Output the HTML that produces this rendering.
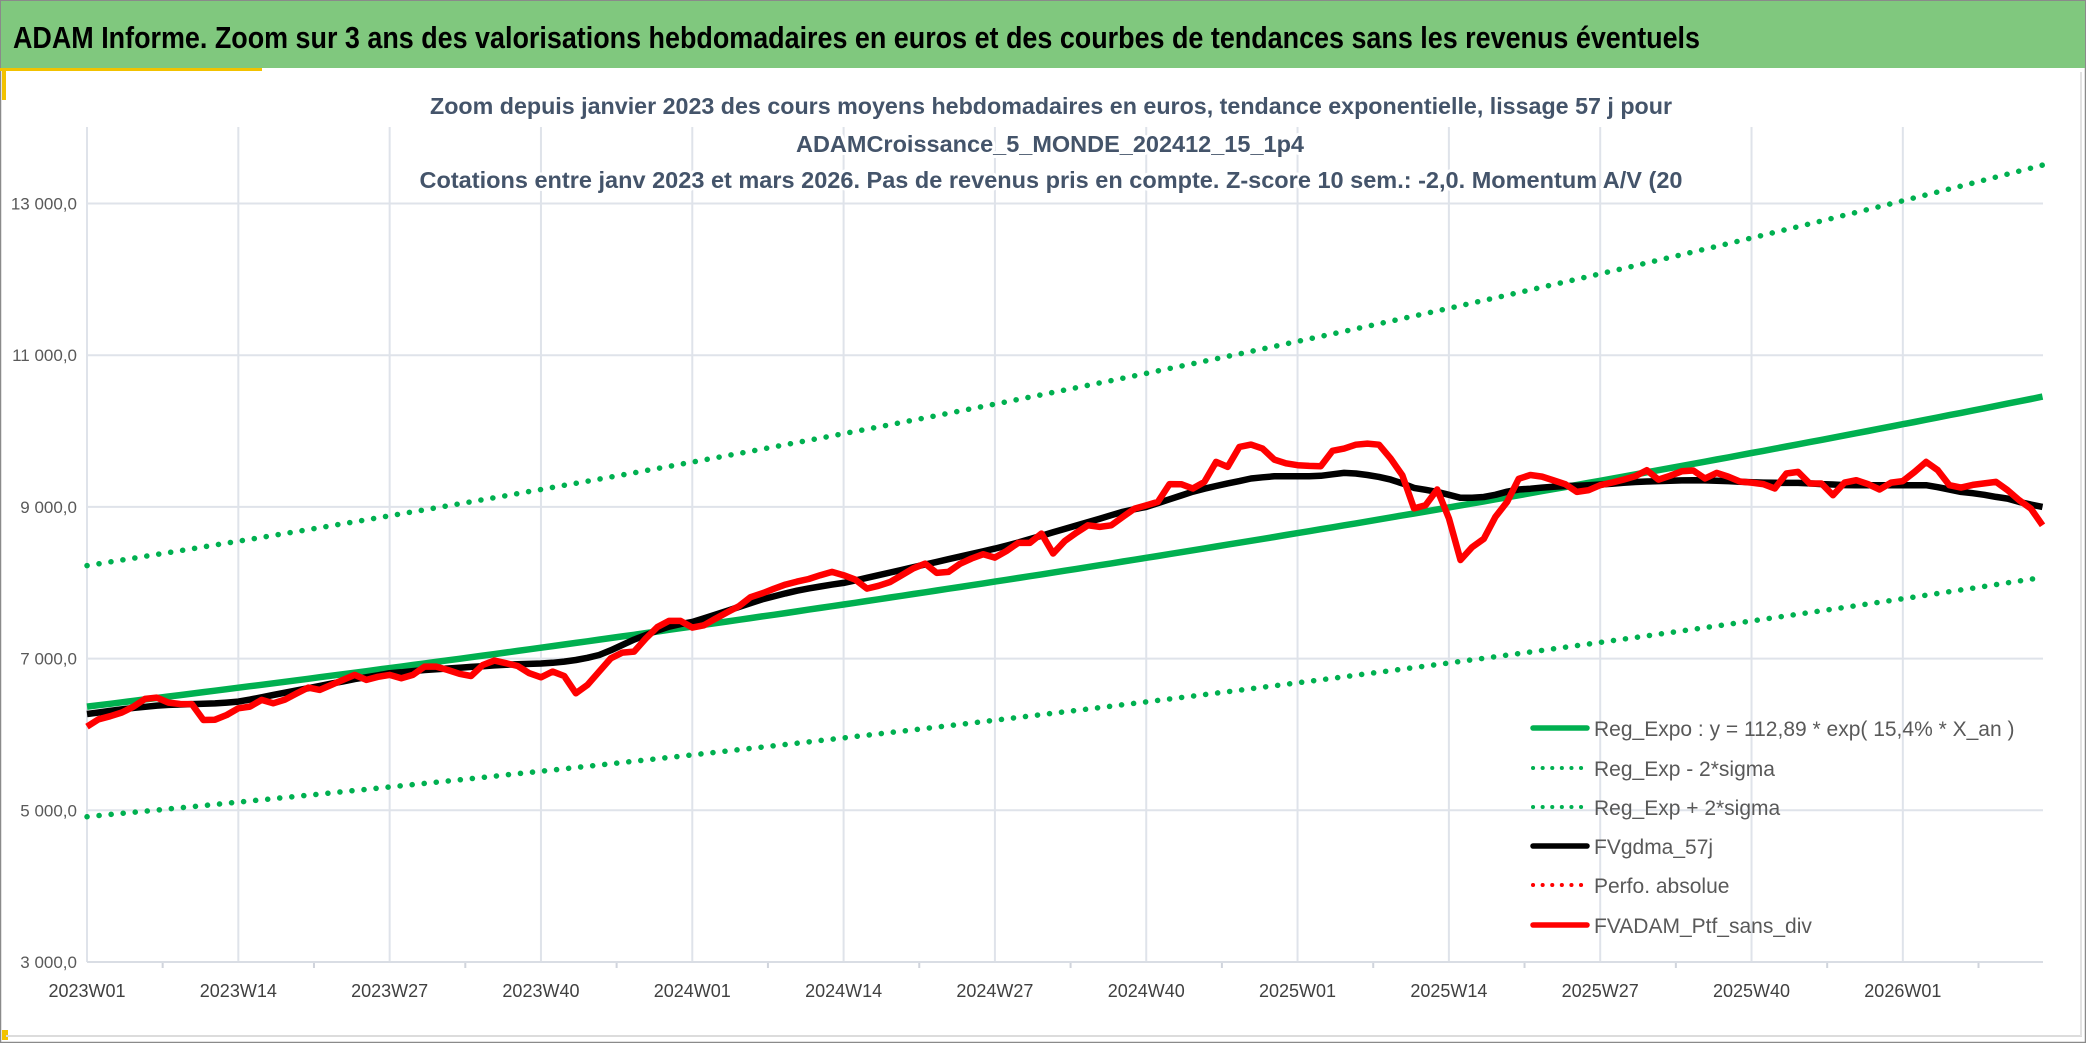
<!DOCTYPE html>
<html><head><meta charset="utf-8"><style>
html,body{margin:0;padding:0;background:#fff;}
svg{display:block;font-family:"Liberation Sans",sans-serif;}
</style></head><body>
<svg id="chart" width="2086" height="1043" viewBox="0 0 2086 1043" xmlns="http://www.w3.org/2000/svg">
<rect x="0" y="0" width="2086" height="1043" fill="#fff"/>
<rect x="0.5" y="0.5" width="2085" height="1042" fill="none" stroke="#8a8a8a" stroke-width="1.5"/>
<rect x="1" y="1" width="2084" height="67" fill="#80c87e"/>
<text x="13" y="48" font-size="31" font-weight="bold" fill="#000" textLength="1687" lengthAdjust="spacingAndGlyphs">ADAM Informe. Zoom sur 3 ans des valorisations hebdomadaires en euros et des courbes de tendances sans les revenus éventuels</text>
<rect x="0" y="68" width="262" height="3" fill="#f2c200"/>
<rect x="2" y="68" width="4" height="32" fill="#f2c200"/>
<rect x="2" y="1030" width="6" height="10" fill="#f2c200"/>
<line x1="6" y1="1036" x2="2082" y2="1036" stroke="#dcdcdc" stroke-width="2"/>
<line x1="2081" y1="72" x2="2081" y2="1036" stroke="#e2e2e2" stroke-width="2"/>
<g id="grid"></g>
<g fill="#44546a" font-weight="bold" font-size="23" text-anchor="middle" stroke="#fff" stroke-width="6" paint-order="stroke" stroke-linejoin="round">
<text x="1051" y="114" textLength="1242" lengthAdjust="spacingAndGlyphs">Zoom depuis janvier 2023 des cours moyens hebdomadaires en euros, tendance exponentielle, lissage 57 j pour</text>
<text x="1050" y="152" textLength="508" lengthAdjust="spacingAndGlyphs">ADAMCroissance_5_MONDE_202412_15_1p4</text>
<text x="1051" y="188" textLength="1263" lengthAdjust="spacingAndGlyphs">Cotations entre janv 2023 et mars 2026. Pas de revenus pris en compte. Z-score 10 sem.: -2,0. Momentum A/V (20</text>
</g>
<g id="axes"></g>
<g id="series"></g>
<g id="legend"></g>
</svg>
<script>
const xLabels = ["2023W01","2023W14","2023W27","2023W40","2024W01","2024W14","2024W27","2024W40","2025W01","2025W14","2025W27","2025W40","2026W01"];
const yTicks = [3000,5000,7000,9000,11000,13000];
const yTickLabels = ["3 000,0","5 000,0","7 000,0","9 000,0","11 000,0","13 000,0"];
const trendStart = [6367];
const trendRate = [0.154];
const sigmaFactors = [0.772, 1.292];
const fvAdam = [6103,6200,6240,6290,6367,6470,6486,6420,6402,6400,6191,6195,6257,6345,6367,6455,6411,6460,6540,6618,6587,6653,6720,6785,6719,6760,6785,6741,6785,6895,6895,6850,6800,6771,6916,6974,6940,6903,6807,6754,6829,6771,6543,6653,6830,7004,7079,7092,7264,7417,7497,7497,7409,7439,7527,7610,7690,7810,7860,7920,7975,8015,8050,8100,8143,8100,8042,7923,7960,8010,8100,8190,8253,8130,8143,8250,8320,8376,8332,8420,8525,8525,8648,8385,8550,8660,8758,8736,8758,8870,8978,9020,9066,9300,9299,9242,9330,9593,9527,9791,9822,9769,9624,9575,9550,9540,9536,9740,9769,9820,9835,9820,9637,9418,8980,9022,9229,8850,8300,8470,8580,8868,9066,9370,9420,9400,9350,9299,9198,9220,9286,9320,9360,9404,9484,9360,9410,9470,9480,9374,9448,9400,9335,9320,9300,9242,9440,9462,9308,9308,9154,9320,9352,9300,9229,9320,9340,9460,9593,9484,9286,9255,9290,9310,9330,9220,9088,8978,8758];
const fvGdma = [6270,6290,6310,6330,6350,6365,6380,6390,6395,6400,6405,6410,6420,6433,6460,6490,6520,6550,6580,6610,6640,6670,6700,6730,6755,6780,6807,6820,6835,6850,6860,6870,6880,6890,6900,6910,6920,6925,6930,6935,6945,6960,6982,7010,7048,7110,7180,7250,7310,7370,7420,7455,7483,7530,7580,7630,7680,7730,7780,7820,7860,7895,7925,7950,7975,7998,8030,8065,8100,8135,8170,8205,8240,8275,8310,8345,8380,8415,8450,8490,8530,8575,8620,8665,8710,8755,8800,8845,8890,8935,8970,9000,9050,9100,9150,9200,9240,9275,9310,9340,9374,9390,9404,9404,9404,9404,9410,9430,9448,9440,9420,9395,9360,9310,9250,9225,9198,9160,9120,9120,9130,9160,9200,9230,9240,9255,9265,9275,9280,9286,9295,9305,9318,9328,9335,9340,9345,9350,9352,9350,9345,9340,9332,9325,9320,9318,9316,9316,9310,9300,9295,9288,9286,9286,9286,9286,9286,9286,9286,9260,9230,9198,9180,9160,9132,9110,9066,9030,9000];
const legendLabels = ["Reg_Expo : y = 112,89 * exp( 15,4% *  X_an )","Reg_Exp - 2*sigma","Reg_Exp + 2*sigma","FVgdma_57j","Perfo. absolue","FVADAM_Ptf_sans_div"];

const NS = "http://www.w3.org/2000/svg";
const X0 = 87, WEEK = 11.64, XEND = 2043, YB = 962, PXK = 75.85, YTOP = 127;
function xs(i){ return X0 + i*WEEK; }
function ys(v){ return YB - (v-3000)/1000*PXK; }
function mk(tag, attrs, parent){ const e=document.createElementNS(NS,tag); for(const k in attrs) e.setAttribute(k,attrs[k]); parent.appendChild(e); return e; }
const grid=document.getElementById('grid'), axes=document.getElementById('axes'), series=document.getElementById('series'), legend=document.getElementById('legend');

yTicks.forEach((t,k)=>{
  if(t>3000){
    const l=mk('line',{x1:X0,x2:XEND,y1:ys(t),y2:ys(t),stroke:'#dfe3ea','stroke-width':2},grid);
    
    
  }
  const tx=mk('text',{x:77,y:ys(t)+6,'font-size':17,fill:'#595959','text-anchor':'end'},axes);
  tx.textContent=yTickLabels[k];
  
  
});
xLabels.forEach((lab,k)=>{
  const x=xs(k*13);
  const l=mk('line',{x1:x,x2:x,y1:YTOP,y2:YB,stroke:'#dfe3ea','stroke-width':2},grid);
  
  
  const tk=mk('line',{x1:x+6.5*WEEK,x2:x+6.5*WEEK,y1:YB,y2:YB+6,stroke:'#d0d4dc','stroke-width':2},axes);
  
  
  const tx=mk('text',{x:x,y:997,'font-size':18,fill:'#404040','text-anchor':'middle'},axes);
  tx.textContent=lab;
  
  
});
const xa=mk('line',{x1:X0,x2:XEND,y1:YB,y2:YB,stroke:'#d9dde4','stroke-width':2},axes);



const N = fvAdam.length;
function trend(i){ return trendStart[0]*Math.exp(trendRate[0]*i/52.18); }
function pts(f){ let s=[]; for(let i=0;i<N;i++) s.push(xs(i).toFixed(1)+','+ys(f(i)).toFixed(1)); return s.join(' '); }
const dotted={'stroke-dasharray':'0.1 12','stroke-linecap':'round'};
function line(points,color,w,extra){
  const a={points:points,fill:'none',stroke:color,'stroke-width':w,'stroke-linejoin':'round'};
  if(extra) Object.assign(a,extra);
  return mk('polyline',a,series);
}
let p;
p=line(pts(i=>trend(i)*sigmaFactors[1]),'#00b050',5.5,dotted);


p=line(pts(i=>trend(i)*sigmaFactors[0]),'#00b050',5.5,dotted);


p=line(pts(i=>trend(i)),'#00b050',6.5);


p=line(pts(i=>fvGdma[i]),'#000000',6.5);


p=line(pts(i=>fvAdam[i]),'#ff0000',6.5);



const lColors=['#00b050','#00b050','#00b050','#000000','#ff0000','#ff0000'];
const lDotted=[false,true,true,false,true,false];
const lY=[728,768,807,846,885,925];
legendLabels.forEach((lab,k)=>{
  const a={x1:1533,x2:1587,y1:lY[k],y2:lY[k],stroke:lColors[k],'stroke-width':lDotted[k]?4:5.5,'stroke-linecap':'round'};
  if(lDotted[k]) a['stroke-dasharray']='0.1 9.5';
  const l=mk('line',a,legend);
  
  
  const t=mk('text',{x:1594,y:lY[k]+8,'font-size':21,fill:'#595959'},legend);
  t.textContent=lab;
  
  
});
</script>
</body></html>
